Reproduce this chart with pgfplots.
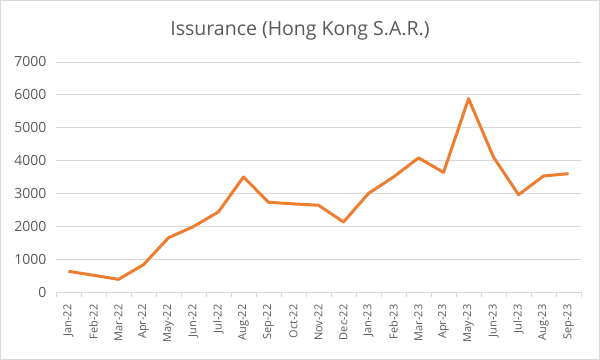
\documentclass[border=0pt]{standalone}
\usepackage{pgfplots}
\pgfplotsset{compat=1.18}
\usepackage{fontspec}
\setmainfont{Open Sans}
\definecolor{lineor}{HTML}{ED7D31}
\definecolor{txtgray}{HTML}{595959}
\definecolor{gridgray}{HTML}{D9D9D9}
\begin{document}
\begin{tikzpicture}[x=1pt,y=1pt]
\draw[gridgray, line width=0.8pt] (0.5,0.5) rectangle (599.5,359.5);
\node[txtgray, font=\fontsize{19.5}{22}\selectfont] at (300,329) {Issurance (Hong Kong S.A.R.)};
\begin{axis}[
  at={(56pt,68pt)}, anchor=south west,
  scale only axis, width=525pt, height=230pt,
  xmin=-0.5, xmax=20.5, ymin=0, ymax=7000,
  ytick={0,1000,...,7000},
  xtick={0,...,20},
  xticklabels={Jan-22,Feb-22,Mar-22,Apr-22,May-22,Jun-22,Jul-22,Aug-22,Sep-22,Oct-22,Nov-22,Dec-22,Jan-23,Feb-23,Mar-23,Apr-23,May-23,Jun-23,Jul-23,Aug-23,Sep-23},
  minor xtick={-0.5,0.5,...,20.5},
  major tick length=0pt, minor tick length=5pt,
  tick align=outside,
  xtick style={gridgray, line width=0.8pt},
  ytick style={draw=none},
  xticklabel shift=9pt,
  xticklabel style={rotate=90, anchor=east, txtgray, font=\fontsize{11}{12}\selectfont},
  yticklabel style={txtgray, font=\fontsize{14}{15}\selectfont, xshift=-6pt},
  /pgf/number format/assume math mode=true,
  /pgf/number format/1000 sep={},
  ymajorgrids, grid style={gridgray, line width=0.8pt},
  axis x line*=bottom, axis y line*=left,
  x axis line style={gridgray, line width=0.8pt, -},
  y axis line style={draw=none},
  clip=false,
]
\addplot[lineor, line width=3pt, line join=round] coordinates {
(0,630) (1,510) (2,385) (3,830) (4,1650) (5,1990) (6,2440) (7,3500) (8,2730) (9,2680) (10,2640) (11,2130) (12,3000) (13,3500) (14,4080) (15,3640) (16,5880) (17,4100) (18,2960) (19,3530) (20,3600)
};
\end{axis}
\end{tikzpicture}
\end{document}
